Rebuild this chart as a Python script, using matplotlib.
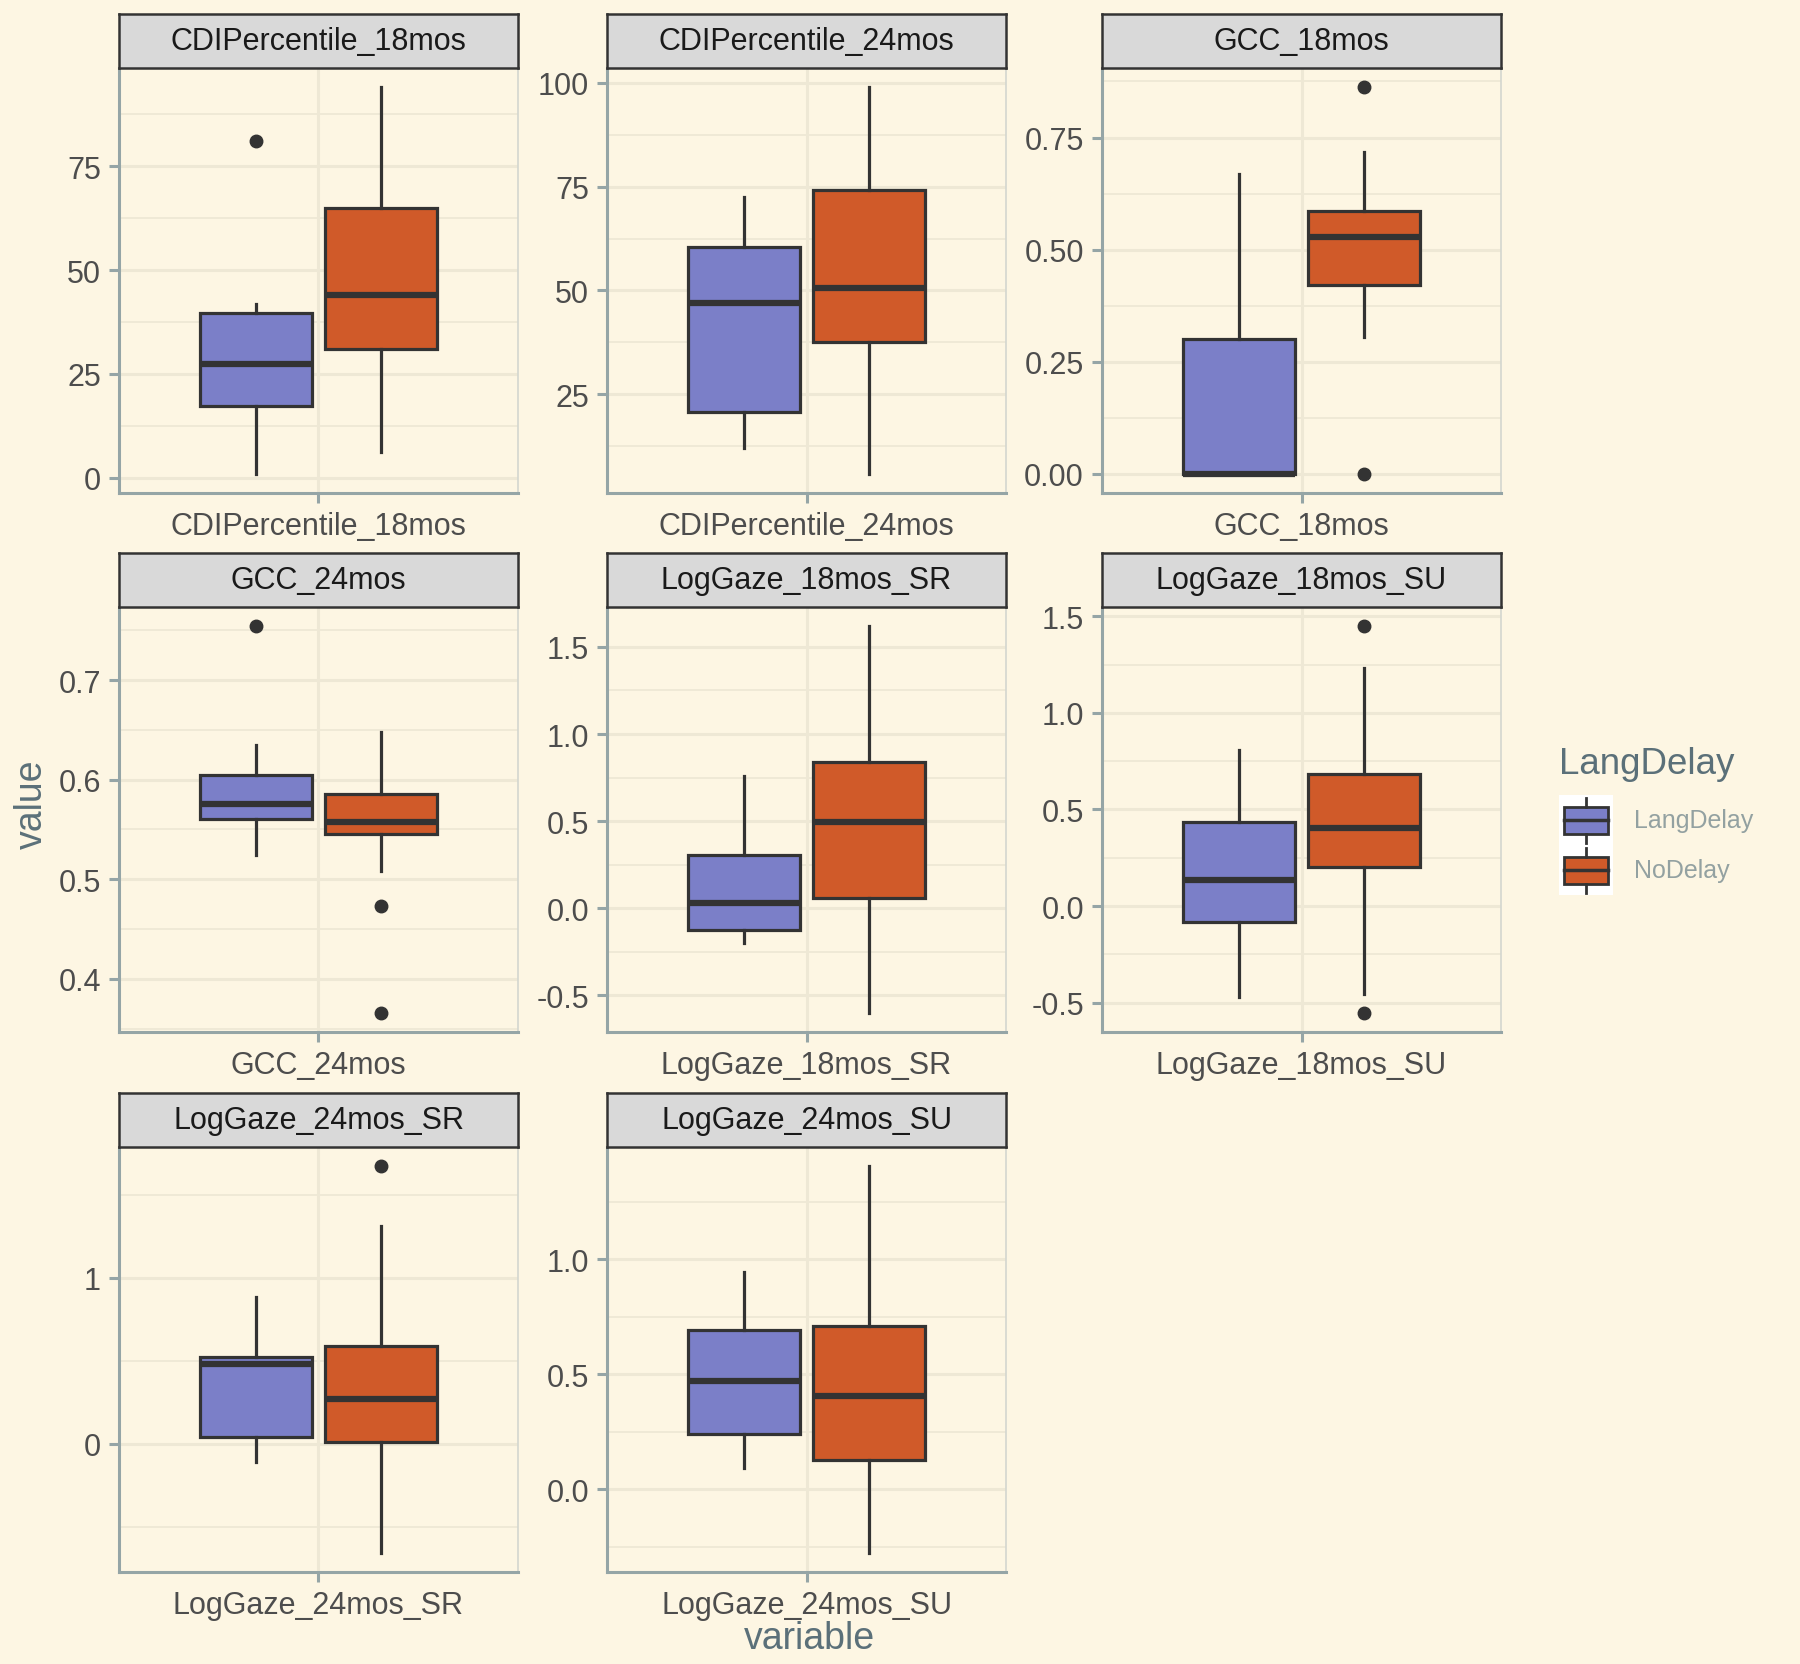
import matplotlib
matplotlib.use("Agg")
import matplotlib.pyplot as plt
from matplotlib.patches import Rectangle
from matplotlib.ticker import AutoMinorLocator

BG = "#FDF6E3"
GRID = "#EEE8D5"
AXLINE = "#95A5A6"
INK = "#4D4D4D"
TITLE = "#5B7079"
STRIP = "#D9D9D9"
EDGE = "#333333"
COLORS = ["#7B7FC8", "#D05A29"]

plt.rcParams.update({"font.family": ["Liberation Sans", "DejaVu Sans"]})

# ---- data ----
variables = ["CDIPercentile_18mos", "CDIPercentile_24mos", "GCC_18mos", "GCC_24mos",
             "LogGaze_18mos_SR", "LogGaze_18mos_SU", "LogGaze_24mos_SR", "LogGaze_24mos_SU"]
groups = ["LangDelay", "NoDelay"]

# per variable: [LangDelay, NoDelay]
whislo = [[1.0, 6.3], [12.0, 5.9], [0.0, 0.304], [0.524, 0.508],
          [-0.197, -0.599], [-0.469, -0.457], [-0.108, -0.656], [0.095, -0.275]]
q1 = [[17.4, 30.9], [20.8, 37.7], [0.0, 0.421], [0.561, 0.545],
      [-0.125, 0.059], [-0.083, 0.202], [0.040, 0.009], [0.240, 0.130]]
med = [[27.3, 44.1], [46.9, 50.7], [0.0, 0.528], [0.576, 0.557],
       [0.033, 0.493], [0.137, 0.404], [0.477, 0.270], [0.470, 0.405]]
q3 = [[39.7, 65.0], [60.4, 74.3], [0.301, 0.587], [0.605, 0.586],
      [0.303, 0.842], [0.433, 0.682], [0.522, 0.589], [0.695, 0.710]]
whishi = [[41.9, 94.0], [72.6, 98.9], [0.668, 0.717], [0.635, 0.648],
          [0.757, 1.618], [0.807, 1.234], [0.883, 1.311], [0.945, 1.405]]
fliers = [[[81.0], []], [[], []], [[], [0.862, 0.0]], [[0.754], [0.473, 0.366]],
          [[], []], [[], [1.448, -0.552]], [[], [1.670]], [[], []]]

yticks = [[0, 25, 50, 75], [25, 50, 75, 100], [0, 0.25, 0.5, 0.75], [0.4, 0.5, 0.6, 0.7],
          [-0.5, 0, 0.5, 1.0, 1.5], [-0.5, 0, 0.5, 1.0, 1.5], [0, 1], [0, 0.5, 1.0]]
yticklabels = [["0", "25", "50", "75"], ["25", "50", "75", "100"],
               ["0.00", "0.25", "0.50", "0.75"], ["0.4", "0.5", "0.6", "0.7"],
               ["-0.5", "0.0", "0.5", "1.0", "1.5"], ["-0.5", "0.0", "0.5", "1.0", "1.5"],
               ["0", "1"], ["0.0", "0.5", "1.0"]]

# ---- layout in pixels ----
W, H = 1800, 1665
col_x = [119, 607, 1102]
panel_w = 399
row_top = [69, 608, 1148]
panel_h = 425
strip_h = 54


def frac(x0, y0, w, h):
    return [x0 / W, 1 - (y0 + h) / H, w / W, h / H]


fig = plt.figure(figsize=(18, 16.65), dpi=100, facecolor=BG)

for i, var in enumerate(variables):
    r, c = divmod(i, 3)
    ax = fig.add_axes(frac(col_x[c], row_top[r], panel_w, panel_h))
    ax.set_facecolor(BG)

    stats = []
    for g in range(2):
        stats.append(dict(whislo=whislo[i][g], q1=q1[i][g], med=med[i][g], q3=q3[i][g],
                          whishi=whishi[i][g], fliers=fliers[i][g]))
    bp = ax.bxp(stats, positions=[0.8125, 1.1875], widths=0.3375, patch_artist=True,
                showcaps=False, manage_ticks=False,
                boxprops=dict(edgecolor=EDGE, linewidth=2.3),
                medianprops=dict(color=EDGE, linewidth=4.5, solid_capstyle="butt"),
                whiskerprops=dict(color=EDGE, linewidth=2.3),
                flierprops=dict(marker="o", markerfacecolor=EDGE, markeredgecolor=EDGE,
                                markersize=9))
    for patch, col in zip(bp["boxes"], COLORS):
        patch.set_facecolor(col)
        patch.set_zorder(3)
    for art in bp["medians"] + bp["whiskers"] + bp["fliers"]:
        art.set_zorder(4)

    vals = whislo[i] + whishi[i] + [v for f in fliers[i] for v in f]
    lo, hi = min(vals), max(vals)
    pad = 0.05 * (hi - lo)
    ax.set_ylim(lo - pad, hi + pad)
    ax.set_xlim(0.4, 1.6)

    ax.set_yticks(yticks[i])
    ax.set_yticklabels(yticklabels[i])
    ax.yaxis.set_minor_locator(AutoMinorLocator(2))
    ax.set_xticks([1])
    ax.set_xticklabels([var])
    ax.grid(which="major", color=GRID, lw=2.2, zorder=0)
    ax.grid(which="minor", axis="y", color=GRID, lw=1.3, zorder=0)
    ax.set_axisbelow(True)
    ax.tick_params(which="major", colors=AXLINE, labelcolor=INK, labelsize=22,
                   length=7, width=2.2, pad=6)
    ax.tick_params(which="minor", length=0)
    for s in ["left", "bottom"]:
        ax.spines[s].set_color(AXLINE)
        ax.spines[s].set_linewidth(2.2)
    for s in ["top", "right"]:
        ax.spines[s].set_color("#D3D6CF")
        ax.spines[s].set_linewidth(1.2)

    sax = fig.add_axes(frac(col_x[c], row_top[r] - strip_h, panel_w, strip_h))
    sax.set_facecolor(STRIP)
    sax.set_xticks([]); sax.set_yticks([])
    for s in sax.spines.values():
        s.set_color(EDGE)
        s.set_linewidth(1.8)
    sax.text(0.5, 0.5, var, ha="center", va="center", fontsize=22, color="#1A1A1A",
             transform=sax.transAxes)

# axis titles
fig.text(32 / W, 1 - 804 / H, "value", rotation=90, ha="center", va="center",
         fontsize=27, color=TITLE)
fig.text(809 / W, 1 - 1639 / H, "variable", ha="center", va="center",
         fontsize=27, color=TITLE)

# legend
fig.text(1559 / W, 1 - 764 / H, "LangDelay", ha="left", va="center", fontsize=26.5, color=TITLE)
lax = fig.add_axes(frac(1559, 796, 54, 100))
lax.set_facecolor("white")
lax.set_xlim(0, 1); lax.set_ylim(0, 2)
lax.axis("off")
lax.add_patch(Rectangle((0, 0), 1, 2, fc="white", ec="none"))
for k, (name, col) in enumerate(zip(groups, COLORS)):
    yc = 1.5 - k
    lax.add_patch(Rectangle((0.1, yc - 0.27), 0.8, 0.54, fc=col, ec=EDGE, lw=2, zorder=3))
    lax.plot([0.1, 0.9], [yc, yc], color=EDGE, lw=2.5, zorder=4)
    lax.plot([0.5, 0.5], [yc + 0.27, yc + 0.45], color=EDGE, lw=2, zorder=4)
    lax.plot([0.5, 0.5], [yc - 0.27, yc - 0.45], color=EDGE, lw=2, zorder=4)
    fig.text(1634 / W, 1 - (796 + 50 * (k + 0.5)) / H, name, ha="left", va="center",
             fontsize=18, color="#93A1A1")

fig.savefig("out.png", dpi=100, facecolor=BG)
